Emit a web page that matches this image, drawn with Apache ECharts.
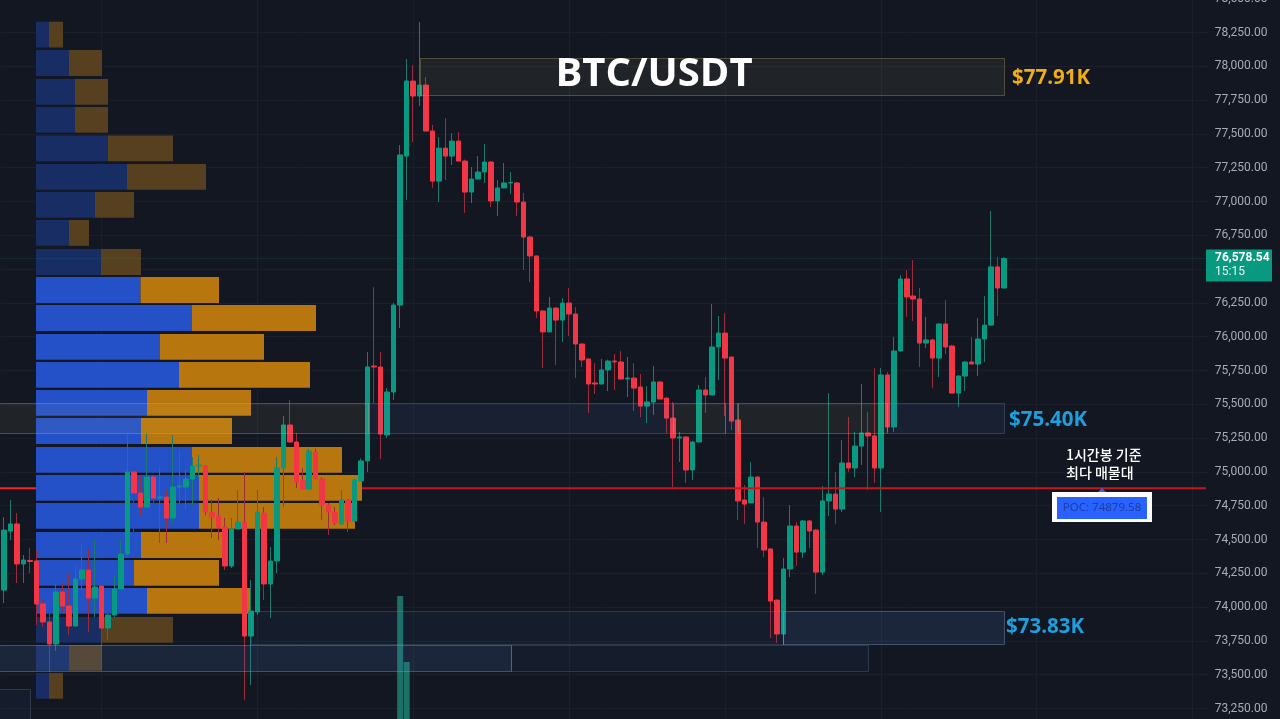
<!DOCTYPE html>
<html>
<head>
<meta charset="utf-8">
<title>BTC/USDT</title>
<style>
  html, body { margin: 0; padding: 0; background: #131722; }
  #chart { width: 1280px; height: 719px; }
</style>
<script src="https://cdn.jsdelivr.net/npm/echarts@6/dist/echarts.min.js"></script>
</head>
<body>
<div id="chart"></div>
<script>
// candles, oldest first
const opens = [
  74126,74563,74615,74319,74345,74341,74023,73890,73727,74112,
  74008,73860,74208,74274,74067,74156,73845,73941,74134,74393,
  74999,74844,74740,74962,74807,74814,74659,74888,74888,74947,
  75044,75044,74703,74674,74592,74304,74578,74629,73786,73964,
  74696,74171,74341,75029,75347,75221,74940,74873,75147,74947,
  74755,74703,74615,74792,74637,74933,75081,75783,75776,75273,
  75591,76234,77336,77891,77780,77861,77521,77151,77395,77336,
  77447,77299,77070,77166,77218,77292,77004,77100,77137,77137,
  76996,76737,76597,76190,76035,76212,76123,76249,76168,75946,
  75835,75658,75650,75754,75820,75813,75687,75694,75628,75487,
  75517,75665,75546,75398,75251,75258,75014,75221,75606,75569,
  75924,76027,75850,75384,74792,74770,74962,74629,74430,74052,
  73801,74282,74600,74407,74637,74570,74259,74785,74836,74725,
  75066,75029,75191,75288,75266,75029,75717,75332,75894,76427,
  76301,76279,75953,75976,75842,76094,75931,75583,75709,75813,
  75798,75983,76086,76516,76360
];
const closes = [
  74570,74615,74319,74348,74337,74023,73890,73727,74112,74008,
  73860,74208,74274,74067,74149,73845,73941,74134,74393,74999,
  74844,74740,74962,74807,74814,74659,74888,74896,74947,75044,
  75051,74703,74666,74592,74304,74578,74629,73786,73971,74703,
  74171,74341,75029,75347,75221,74925,74873,75154,74947,74755,
  74703,74622,74792,74637,74940,75081,75776,75776,75280,75591,
  76234,77344,77891,77780,77861,77521,77151,77395,77336,77447,
  77299,77070,77166,77218,77292,77004,77100,77137,77141,76996,
  76737,76597,76190,76035,76212,76123,76249,76168,75946,75828,
  75650,75650,75754,75820,75813,75687,75694,75620,75487,75517,
  75665,75539,75398,75251,75258,75014,75221,75606,75569,75924,
  76027,75842,75376,74785,74762,74962,74629,74422,74045,73801,
  74282,74600,74407,74637,74563,74259,74785,74836,74725,75066,
  75029,75191,75288,75266,75029,75717,75332,75894,76427,76294,
  76279,75953,75976,75842,76094,75924,75583,75709,75813,75798,
  75983,76086,76516,76360,76578.54
];
const lows = [
  74030,74496,74178,74178,74252,73868,73853,73520,73675,73964,
  73794,73860,74126,73816,73927,73535,73757,73927,74134,74370,
  74518,74681,74740,74629,74474,74474,74622,74770,74718,74755,
  74962,74681,74511,74496,74274,74289,74578,73313,73424,73941,
  74052,73919,74252,74740,75221,74881,74873,74873,74947,74644,
  74533,74607,74607,74555,74629,74933,74999,75509,75095,75251,
  75532,76064,77011,77440,77706,77521,77100,76996,77159,77270,
  77299,76915,76989,77166,77137,76959,76892,77100,77055,76892,
  76493,76404,76138,75768,76035,75790,75961,76005,75694,75776,
  75436,75576,75650,75598,75606,75687,75554,75450,75406,75362,
  75421,75539,75288,74888,75073,74918,74940,75221,75436,75569,
  75680,75413,75310,74644,74615,74770,74437,74370,73772,73734,
  73720,74222,74304,74363,74437,74097,74237,74674,74615,74703,
  74999,74962,75051,74866,74918,74703,75295,75295,75894,76146,
  76116,75776,75916,75620,75702,75872,75583,75480,75598,75798,
  75709,75813,76086,76153,76360
];
const highs = [
  74666,74792,74696,74385,74437,74422,74052,74030,74178,74178,
  74252,74311,74459,74422,74496,74297,73950,74237,74496,75288,
  75044,74977,75288,74977,75036,74866,75273,75162,75014,75110,
  75125,75051,74792,74807,74659,74659,74866,74999,74200,74866,
  74740,74444,75110,75413,75532,75288,75029,75170,75170,74960,
  74770,74740,74866,74800,74950,75100,75887,76367,75887,75620,
  76250,77418,78054,78009,78327,77921,77566,77477,77617,77506,
  77514,77310,77255,77336,77425,77300,77159,77285,77218,77145,
  77063,76745,76600,76195,76294,76220,76286,76360,76219,75950,
  75840,75805,75835,75830,75872,75894,75850,75805,75724,75635,
  75783,75672,75550,75517,75295,75265,75230,75643,75702,76242,
  76153,76175,75850,75509,74903,75073,74970,74814,74435,74055,
  74363,74755,74629,74645,74645,74578,74896,75583,74999,75236,
  75406,75295,75650,75443,75768,75768,75739,75998,76456,76493,
  76567,76360,76146,75985,76100,76271,75940,75715,75820,75998,
  76138,76301,76930,76590,76590
];

// volume profile rows, top to bottom
const profileTops = [78330,78120,77906,77699,77488,77277,77070,76863,76648,76441,76234,76020,75813,75606,75398,75184,74977,74770,74555,74348,74141,73927,73720,73513];
const profileBuy = [13,33,39,39,72,91,59,33,65,104.5,156,124,143,111,105,156,163,163,105,98,111,66,33,13];
const profileSell = [14,33,33,33,65,79,39,20,40,78.5,124,104,131,104,91,150,163,156,82,85,104,71,33,14];
const profileInValueArea = [0,0,0,0,0,0,0,0,0,1,1,1,1,1,1,1,1,1,1,1,1,0,0,0];
const profileRowSpan = 191;

// price zones: first bar, last bar, upper price, lower price, look
const zoneFrom = [64,0,56,103,111,113,136,38,120,0,78,0];
const zoneTo = [154,56,103,111,113,136,154,120,154,78,133,4];
const zoneUpper = [78061,75509,75509,75509,75509,75509,75509,73971,73971,73720,73720,73394];
const zoneLower = [77787,75288,75288,75288,75288,75288,75288,73727,73727,73527,73527,73150];
const zoneKind = ['gold','gold','blue','gold','blue','gold','blue','dim','strong','strong','dim','dim'];

// the two tall volume bars at the bottom
const volumeBars = [61,62];
const volumeTops = [74082,73594];

const pocPrice = 74879.58;
const lastPrice = 76578.54;
const priceMin = 73000;
const priceMax = 78500;
const priceStep = 250;
const barCount = 186;
const gridBars = [15,39,63,87,111,135,159,183];

const upColor = '#089981';
const downColor = '#f23645';
const upWick = '#1d7a6c';
const downWick = '#9a2c3c';
const gridColor = '#1b1f2b';
const profileColors = { buy: '#2450c8', sell: '#b8760e', buyDim: '#182d63', sellDim: '#56401f' };
const zoneStyles = {
  gold: { fill: 'rgba(255,235,130,0.06)', stroke: 'rgba(190,175,100,0.34)' },
  blue: { fill: 'rgba(80,130,210,0.09)', stroke: 'rgba(120,150,190,0.3)' },
  strong: { fill: 'rgba(80,130,210,0.15)', stroke: 'rgba(130,160,200,0.4)' },
  dim: { fill: 'rgba(80,130,210,0.055)', stroke: 'rgba(120,150,190,0.26)' }
};

const categories = Array.from({ length: barCount }, (_, i) => String(i));
const wickData = opens.map((o, i) => [o, closes[i], lows[i], highs[i]]);
const bodyData = opens.map((o, i) => [o, closes[i], Math.min(o, closes[i]), Math.max(o, closes[i])]);

function renderProfile(params, api) {
  const i = params.dataIndex;
  const buy = profileBuy[i];
  const sell = profileSell[i];
  const active = profileInValueArea[i];
  const a = api.coord([0, profileTops[i]]);
  const b = api.coord([buy, profileTops[i] - profileRowSpan]);
  const c = api.coord([buy + sell, profileTops[i] - profileRowSpan]);
  return {
    type: 'group',
    children: [
      { type: 'rect', shape: { x: a[0], y: a[1], width: b[0] - a[0], height: b[1] - a[1] },
        style: { fill: active ? profileColors.buy : profileColors.buyDim } },
      { type: 'rect', shape: { x: b[0], y: a[1], width: c[0] - b[0], height: b[1] - a[1] },
        style: { fill: active ? profileColors.sell : profileColors.sellDim } }
    ]
  };
}

function renderZone(params, api) {
  const i = params.dataIndex;
  const look = zoneStyles[zoneKind[i]];
  const a = api.coord([zoneFrom[i], zoneUpper[i]]);
  const b = api.coord([zoneTo[i], zoneLower[i]]);
  // zones that start on the first bar run off the left edge
  const left = zoneFrom[i] === 0 ? params.coordSys.x - 2 : Math.round(a[0]) + 0.5;
  return {
    type: 'rect',
    shape: { x: left, y: Math.round(a[1]) + 0.5, width: Math.round(b[0]) + 0.5 - left, height: Math.round(b[1] - a[1]) },
    style: { fill: look.fill, stroke: look.stroke, lineWidth: 1 }
  };
}

const myChart = echarts.init(document.getElementById('chart'), null, { renderer: 'canvas' });

const option = {
  backgroundColor: '#131722',
  animation: false,
  // the price scale runs past the top and bottom of the window
  grid: { left: 0.75, top: -1.3, width: 1208, height: 743.6, containLabel: false, outerBoundsMode: 'none' },
  xAxis: [
    {
      type: 'category',
      data: categories,
      axisLine: { show: false },
      axisTick: { show: false },
      axisLabel: { show: false },
      splitLine: {
        show: true,
        alignWithLabel: true,
        interval: function (i) { return gridBars.indexOf(i) !== -1; },
        lineStyle: { color: gridColor, width: 1 }
      }
    },
    // hidden scale for the volume profile widths and the level lines
    { type: 'value', show: false, min: -35.25, max: 1172.75, splitLine: { show: false } }
  ],
  yAxis: {
    type: 'value',
    position: 'right',
    min: priceMin,
    max: priceMax,
    interval: priceStep,
    axisLine: { show: false },
    axisTick: { show: false },
    splitLine: { lineStyle: { color: gridColor, width: 1 } },
    axisLabel: {
      margin: 6,
      color: '#a8abb5',
      fontFamily: 'Roboto',
      fontSize: 12,
      padding: [0, 0, 3, 0],
      formatter: function (v) {
        return v.toLocaleString('en-US', { minimumFractionDigits: 2, maximumFractionDigits: 2 });
      }
    }
  },
  series: [
    {
      // POC under the profile, it only tints the bars there
      type: 'line', xAxisIndex: 1, z: 1, silent: true, symbol: 'none',
      data: [[-36, pocPrice], [326, pocPrice]],
      lineStyle: { color: '#ff2020', width: 2 }
    },
    {
      type: 'custom', xAxisIndex: 1, z: 2, silent: true,
      renderItem: renderProfile,
      itemStyle: { opacity: 0.9 },
      encode: { x: 0, y: 1 },
      data: profileTops.map((t, i) => [profileBuy[i] + profileSell[i], t])
    },
    {
      type: 'candlestick', z: 3, silent: true, barWidth: 1,
      itemStyle: { color: upWick, color0: downWick, borderColor: upWick, borderColor0: downWick, borderWidth: 1 },
      markLine: {
        silent: true, symbol: 'none', label: { show: false },
        lineStyle: { color: 'rgba(8,153,129,0.32)', type: 'dotted', width: 1 },
        data: [{ yAxis: lastPrice }]
      },
      data: wickData
    },
    {
      type: 'candlestick', z: 4, silent: true, barWidth: 5,
      itemStyle: { color: upColor, color0: downColor, borderColor: upColor, borderColor0: downColor, borderWidth: 1 },
      data: bodyData
    },
    {
      type: 'bar', z: 4, silent: true, barWidth: 6, barGap: '-100%',
      itemStyle: { color: '#1c7066' },
      data: volumeBars.map((b, i) => [b, volumeTops[i]])
    },
    {
      type: 'custom', z: 5, silent: true,
      renderItem: renderZone,
      encode: { x: 0, y: 1 },
      data: zoneFrom.map((f, i) => [f, zoneUpper[i]])
    },
    {
      type: 'line', xAxisIndex: 1, z: 6, silent: true, symbol: 'none',
      data: [[326, pocPrice], [1170, pocPrice]],
      lineStyle: { color: '#c8161f', width: 2 }
    }
  ],
  graphic: {
    elements: [
      { type: 'text', z: 100, x: 654, y: 75, silent: true,
        style: { text: 'BTC/USDT', fill: '#ffffff', font: '700 40px "Open Sans"', textAlign: 'center', textVerticalAlign: 'middle' } },
      { type: 'text', z: 100, x: 1012, y: 78, silent: true,
        style: { text: '$77.91K', fill: '#f0ae14', font: '700 20.5px "Open Sans"', textVerticalAlign: 'middle' } },
      { type: 'text', z: 100, x: 1009, y: 420, silent: true,
        style: { text: '$75.40K', fill: '#1f9ede', font: '700 20.5px "Open Sans"', textVerticalAlign: 'middle' } },
      { type: 'text', z: 100, x: 1006, y: 627, silent: true,
        style: { text: '$73.83K', fill: '#1f9ede', font: '700 20.5px "Open Sans"', textVerticalAlign: 'middle' } },
      { type: 'text', z: 100, x: 1066, y: 455, silent: true,
        style: { text: '1시간봉 기준', fill: '#ffffff', font: '500 14px "Noto Sans CJK KR"', textVerticalAlign: 'middle' } },
      { type: 'text', z: 100, x: 1066, y: 473, silent: true,
        style: { text: '최다 매물대', fill: '#ffffff', font: '500 14px "Noto Sans CJK KR"', textVerticalAlign: 'middle' } },
      { type: 'polygon', z: 100, silent: true,
        shape: { points: [[1102, 488], [1097, 493], [1107, 493]] }, style: { fill: '#3a66e0' } },
      { type: 'rect', z: 100, silent: true,
        shape: { x: 1052, y: 492, width: 100, height: 30 }, style: { fill: '#ffffff' } },
      { type: 'rect', z: 101, silent: true,
        shape: { x: 1057, y: 497, width: 90, height: 22 }, style: { fill: '#2962ff' } },
      { type: 'text', z: 102, x: 1102, y: 508, silent: true,
        style: { text: 'POC: 74879.58', fill: '#1b3f9c', font: '11.5px "Noto Sans"', textAlign: 'center', textVerticalAlign: 'middle' } },
      { type: 'rect', z: 100, silent: true,
        shape: { x: 1206, y: 249.5, width: 66, height: 32 }, style: { fill: '#089981' } },
      { type: 'text', z: 101, x: 1215, y: 258, silent: true,
        style: { text: '76,578.54', fill: '#ffffff', font: '700 12px Roboto', textVerticalAlign: 'middle' } },
      { type: 'text', z: 101, x: 1215, y: 272, silent: true,
        style: { text: '15:15', fill: '#e6f5f2', font: '12px Roboto', textVerticalAlign: 'middle' } }
    ]
  }
};

myChart.setOption(option);
window.addEventListener('resize', function () { myChart.resize(); });
</script>
</body>
</html>
